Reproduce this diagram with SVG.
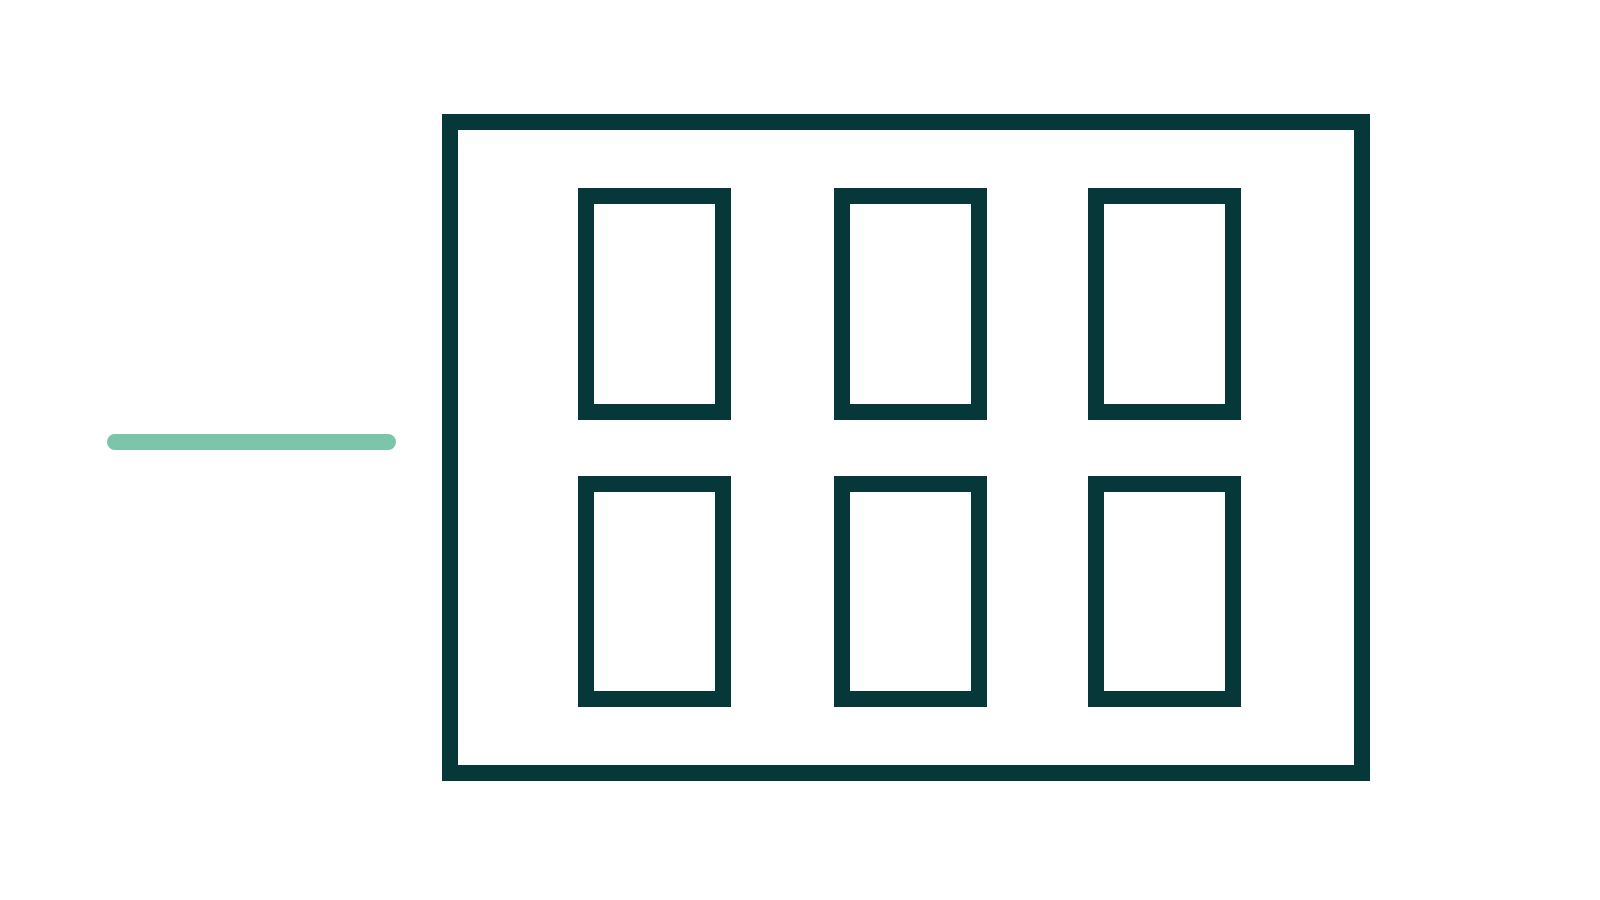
<svg xmlns="http://www.w3.org/2000/svg" width="1600" height="900" viewBox="0 0 1600 900">
<style>
.box{fill:none;stroke:#06383a;stroke-width:16}
.line{stroke:#7cc4aa;stroke-width:16;stroke-linecap:round;fill:none}
</style>
<rect width="1600" height="900" fill="#ffffff"/>
<g id="connectors">
<line class="line" x1="115" y1="442" x2="388" y2="442"/>
</g>
<g id="frame"><rect class="box" x="450" y="122" width="912" height="651"/></g>
<g id="cell1"><rect class="box" x="586" y="196" width="137" height="216"/></g>
<g id="cell2"><rect class="box" x="842" y="196" width="137" height="216"/></g>
<g id="cell3"><rect class="box" x="1096" y="196" width="137" height="216"/></g>
<g id="cell4"><rect class="box" x="586" y="484" width="137" height="215"/></g>
<g id="cell5"><rect class="box" x="842" y="484" width="137" height="215"/></g>
<g id="cell6"><rect class="box" x="1096" y="484" width="137" height="215"/></g>
</svg>
